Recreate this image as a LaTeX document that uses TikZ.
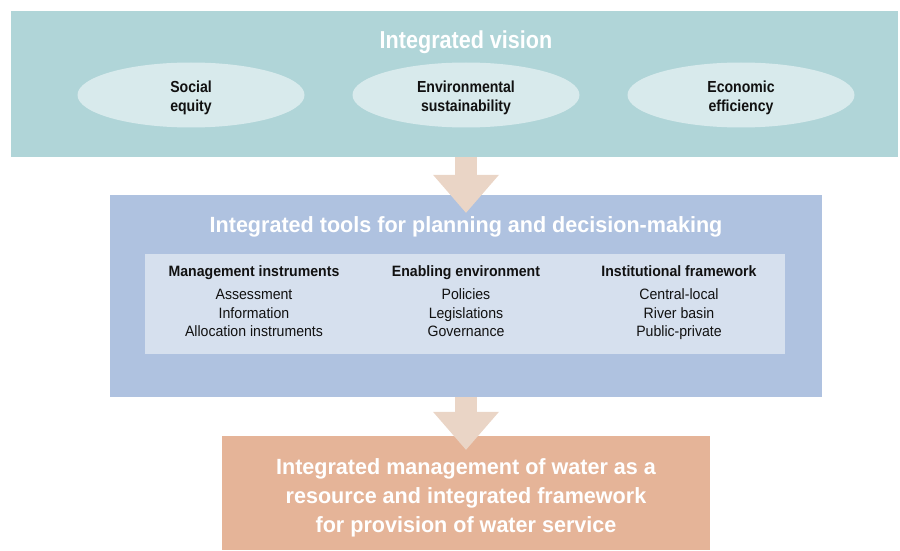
\documentclass[tikz,border=0pt]{standalone}
\usepackage{fontspec}
\setmainfont{Liberation Sans}[FakeStretch=0.88]
\newfontfamily\headfont{Liberation Sans}[FakeStretch=0.98]
\newfontfamily\listfont{Liberation Sans}[FakeStretch=0.94]
\usetikzlibrary{calc, positioning, arrows.meta, shapes.geometric}

\definecolor{visionteal}{HTML}{B0D5D8}
\definecolor{pillfill}{HTML}{D8EAEC}
\definecolor{toolsblue}{HTML}{AFC2E0}
\definecolor{panelblue}{HTML}{D6E0EE}
\definecolor{outcomepeach}{HTML}{E5B498}
\definecolor{flowpeach}{HTML}{EAD5C6}
\definecolor{inkblack}{HTML}{111111}

\begin{document}
\begin{tikzpicture}[
        x=1pt, y=1pt,
        band/.style={
            rectangle,
            inner sep=0pt
        },
        heading/.style={
            text=white,
            align=center,
            font=\headfont\fontsize{22}{29}\selectfont\bfseries
        },
        pill/.style={
            ellipse,
            fill=pillfill,
            inner sep=0pt,
            minimum width=227pt,
            minimum height=65pt,
            align=center,
            text=inkblack,
            font=\fontsize{16}{19.5}\selectfont\bfseries
        },
        column/.style={
            align=center,
            text=inkblack,
            font=\listfont\fontsize{15}{18.5}\selectfont
        },
        flow/.style={
            line width=22pt,
            draw=flowpeach,
            -{Triangle[width=66pt, length=38pt, line width=0pt]}
        }
    ]

    \useasboundingbox (0,0) rectangle (900,550);

    % boxes
    \node[band, fill=visionteal, minimum width=887pt, minimum height=146pt] (vision) at (454.5,466) {};
    \node[band, fill=toolsblue, minimum width=712pt, minimum height=202pt] (tools) at (466,254) {};
    \node[band, fill=panelblue, minimum width=640pt, minimum height=100pt] (panel) at (465,246) {};
    \node[band, fill=outcomepeach, minimum width=488pt, minimum height=114pt] (outcome) at (466,57) {};

    % vision
    \node[heading, font=\fontsize{24.5}{29}\selectfont\bfseries] (visiontitle) at (466,508) {Integrated vision};
    \node[pill] (equity) at (191,455) {\rule{0pt}{17.5pt}Social\\equity};
    \node[pill] (sustain) at (466,455) {\rule{0pt}{17.5pt}Environmental\\sustainability};
    \node[pill] (efficiency) at (741,455) {\rule{0pt}{17.5pt}Economic\\efficiency};

    % tools
    \node[heading] (toolstitle) at (466,323) {Integrated tools for planning and decision-making};
    \node[column] (instruments) at (254,249) {
        \textbf{Management instruments}\\[5pt]
        Assessment\\
        Information\\
        Allocation instruments
    };
    \node[column] (enabling) at (466,249) {
        \textbf{Enabling environment}\\[5pt]
        Policies\\
        Legislations\\
        Governance
    };
    \node[column] (institutional) at (679,247.5) {
        \textbf{Institutional framework}\\[5pt]
        Central-local\\
        River basin\\
        Public-private
    };

    % outcome
    \node[heading] (outcometext) at (466,52.5) {
        Integrated management of water as a\\
        resource and integrated framework\\
        for provision of water service
    };

    \draw[flow] (vision.south -| tools.north) -- ($(tools.north)+(0,-18)$);
    \draw[flow] (tools.south) -- ($(outcome.north)+(0,-14)$);

\end{tikzpicture}
\end{document}
